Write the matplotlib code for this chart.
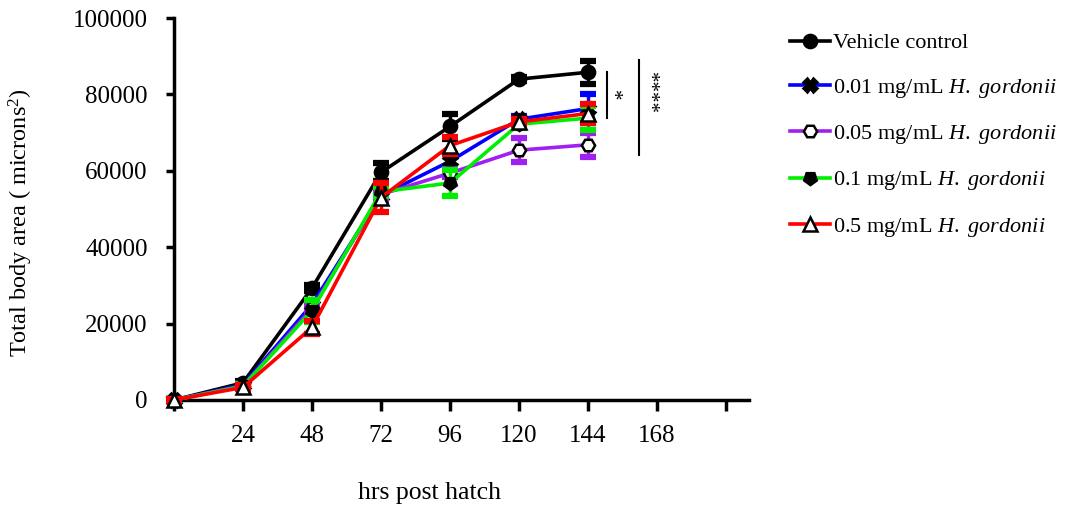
import matplotlib
matplotlib.use("Agg")
import matplotlib.pyplot as plt

plt.rcParams['font.family'] = ['Liberation Serif', 'DejaVu Serif']
plt.rcParams['mathtext.fontset'] = 'custom'
plt.rcParams['mathtext.rm'] = 'Liberation Serif'
plt.rcParams['mathtext.it'] = 'Liberation Serif:italic'

# hours post hatch
hours = [0, 24, 48, 72, 96, 120, 144]

vehicle = [0, 4500, 29300, 59600, 71600, 84000, 85800]
vehicle_err = [300, 600, 800, 2400, 3300, 600, 3000]

hg_001 = [0, 4000, 25000, 53500, 62500, 73500, 76300]
hg_001_err = [300, 500, 900, 1200, 2000, 800, 3800]

hg_005 = [0, 3700, 24000, 53800, 59400, 65400, 66800]
hg_005_err = [300, 500, 900, 1200, 1000, 3100, 3100]

hg_01 = [0, 3600, 23400, 54500, 56800, 72200, 73800]
hg_01_err = [300, 500, 2900, 1200, 3500, 1000, 3100]

hg_05 = [0, 3300, 19000, 53000, 66600, 72800, 75000]
hg_05_err = [300, 500, 1800, 3800, 2200, 800, 2500]

labels = ['Vehicle control',
          r'0.01 mg/mL $\mathit{H.\ gordonii}$',
          r'0.05 mg/mL $\mathit{H.\ gordonii}$',
          r'0.1 mg/mL $\mathit{H.\ gordonii}$',
          r'0.5 mg/mL $\mathit{H.\ gordonii}$']
colors = ['black', '#0000ff', '#a020f0', '#00ee00', '#ff0000']
markers = ['o', 'X', 'H', (5, 0, 180), '^']
faces = ['black', 'black', 'white', 'black', 'white']

fig = plt.figure(figsize=(10.78, 5.13), dpi=100)
ax = fig.add_axes([174 / 1078, 113 / 513, 575 / 1078, 382 / 513])

series = [(vehicle, vehicle_err), (hg_001, hg_001_err), (hg_005, hg_005_err),
          (hg_01, hg_01_err), (hg_05, hg_05_err)]
handles = []
for i, (vals, errs) in enumerate(series):
    ax.errorbar(hours, vals, yerr=errs, fmt='none', ecolor=colors[i],
                elinewidth=2.5, capsize=6, capthick=4.5, clip_on=False, zorder=2 + i)
    h, = ax.plot(hours, vals, color=colors[i], lw=2.6, marker=markers[i],
                 ms=9.5, mfc=faces[i], mec='black', mew=1.8, clip_on=False,
                 zorder=3 + i, label=labels[i])
    handles.append(h)

ax.set_xlim(0, 200)
ax.set_ylim(0, 100000)
ax.set_xticks([0, 24, 48, 72, 96, 120, 144, 168, 192])
ax.set_xticklabels(['', '24', '48', '72', '96', '120', '144', '168', ''])
ax.set_yticks([0, 20000, 40000, 60000, 80000, 100000])
ax.spines['top'].set_visible(False)
ax.spines['right'].set_visible(False)
for s in ['left', 'bottom']:
    ax.spines[s].set_linewidth(2.5)
ax.tick_params(axis='y', direction='out', length=6, width=2.5, pad=13, labelsize=18)
ax.tick_params(axis='x', direction='out', length=8, width=2.5, pad=10, labelsize=18)

ax.set_xlabel('hrs post hatch', fontsize=18.5)
ax.xaxis.set_label_coords(0.445, -0.215)
ax.set_ylabel(r'Total body area ( microns$^{2}$)', fontsize=17.5)
ax.yaxis.set_label_coords(-0.242, 0.465)

# significance marks
ax.plot([150.6, 150.6], [73800, 85900], color='black', lw=1.5, clip_on=False)
ax.text(152.3, 79800, '*', rotation=270, fontsize=15, va='center', ha='center')
ax.plot([161.7, 161.7], [64100, 89000], color='black', lw=1.5, clip_on=False)
ax.text(165.2, 80300, '****', rotation=270, fontsize=15, va='center', ha='center')

fig.legend(handles=handles, loc='upper left', bbox_to_anchor=(781 / 1078, 1 - 24 / 513),
           frameon=False, fontsize=16, handlelength=1.8, handletextpad=0.15,
           labelspacing=1.05, borderaxespad=0)

fig.savefig('out.png', dpi=100)
